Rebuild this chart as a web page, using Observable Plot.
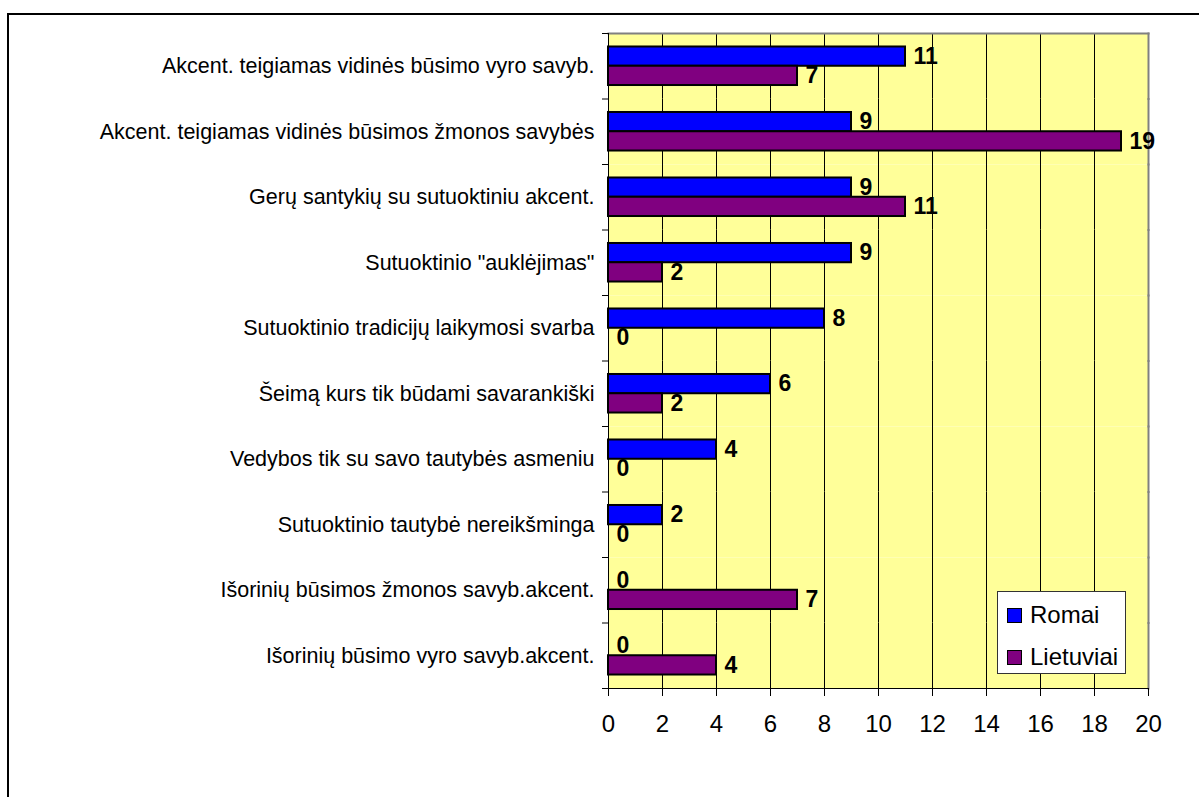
<!DOCTYPE html>
<html>
<head>
<meta charset="utf-8">
<script src="https://cdn.jsdelivr.net/npm/d3@7"></script>
<script src="https://cdn.jsdelivr.net/npm/@observablehq/plot@0.6"></script>
<style>
  html, body { margin: 0; padding: 0; background: #fff; overflow: hidden; }
  body { width: 1199px; height: 797px; position: relative; font-family: "Liberation Sans", Arial, sans-serif; }
  #border { position: absolute; left: 7px; top: 13px; width: 1300px; height: 900px; border: 2px solid #000; box-sizing: border-box; }
  #chart { position: absolute; left: 0; top: 0; }
  #legend { position: absolute; left: 997px; top: 591px; width: 129px; height: 83px; border: 1px solid #333; background: #fff; box-sizing: border-box; font-size: 24px; color: #000; }
  .item { position: absolute; left: 9px; display: flex; align-items: center; height: 28px; line-height: 28px; }
  .sw { width: 13px; height: 13px; border: 1.5px solid #000; margin-right: 8px; }
</style>
</head>
<body>
<div id="border"></div>
<div id="chart"></div>
<div id="legend"></div>
<script>
const categories = [
  "Akcent. teigiamas vidinės būsimo vyro savyb.",
  "Akcent. teigiamas vidinės būsimos žmonos savybės",
  "Gerų santykių su sutuoktiniu akcent.",
  "Sutuoktinio \"auklėjimas\"",
  "Sutuoktinio tradicijų laikymosi svarba",
  "Šeimą kurs tik būdami savarankiški",
  "Vedybos tik su savo tautybės asmeniu",
  "Sutuoktinio tautybė nereikšminga",
  "Išorinių būsimos žmonos savyb.akcent.",
  "Išorinių būsimo vyro savyb.akcent."
];
const series = ["Romai", "Lietuviai"];
const romai = [11, 9, 9, 9, 8, 6, 4, 2, 0, 0];
const lietuviai = [7, 19, 11, 2, 0, 2, 0, 0, 7, 4];
const xTicks = [0, 2, 4, 6, 8, 10, 12, 14, 16, 18, 20];
const colors = ["#0000ff", "#800080"];

const data = [];
categories.forEach((c, i) => {
  data.push({cat: c, series: "Romai", value: romai[i]});
  data.push({cat: c, series: "Lietuviai", value: lietuviai[i]});
});

const plot = Plot.plot({
  width: 1199,
  height: 797,
  marginLeft: 608,
  marginRight: 51,
  marginTop: 33,
  marginBottom: 109,
  style: {fontFamily: "'Liberation Sans', Arial, sans-serif", background: "transparent"},
  x: {domain: [0, 20], ticks: xTicks},
  y: {domain: series, paddingInner: 0, paddingOuter: 0.7, round: false, axis: null},
  fy: {domain: categories, padding: 0, round: false},
  color: {domain: series, range: colors},
  marks: [
    Plot.frame({fill: "#ffff99", stroke: "none"}),
    Plot.ruleX(xTicks.slice(1, -1), {stroke: "#000", strokeWidth: 1}),
    Plot.frame({anchor: "right", stroke: "#808080", strokeWidth: 2}),
    Plot.frame({anchor: "top", stroke: "#808080", strokeWidth: 2, fy: categories[0]}),
    Plot.frame({anchor: "left", stroke: "#000", strokeWidth: 1}),
    Plot.frame({anchor: "bottom", stroke: "#000", strokeWidth: 1, fy: categories[categories.length - 1]}),
    Plot.frame({anchor: "top", stroke: "#000", strokeWidth: 1, insetLeft: -6, insetRight: 540}),
    Plot.frame({anchor: "bottom", stroke: "#000", strokeWidth: 1, insetLeft: -6, insetRight: 540, fy: categories[categories.length - 1]}),
    Plot.barX(data, {fy: "cat", y: "series", x: "value", fill: "series", stroke: "#000", strokeWidth: 2}),
    Plot.text(data, {fy: "cat", y: "series", x: "value", text: d => String(d.value), dx: 8, textAnchor: "start", fontWeight: "bold", fontSize: 23, fill: "#000"}),
    Plot.axisX({ticks: xTicks, tickSize: 8, tickPadding: 18, fontSize: 24, stroke: "#000", color: "#000", label: null}),
    Plot.axisFy({anchor: "left", tickSize: 0, tickPadding: 14, fontSize: 21.5, label: null, color: "#000"})
  ]
});
document.getElementById("chart").appendChild(plot);

const legend = document.getElementById("legend");
const tops = [9, 51];
series.forEach((s, i) => {
  const it = document.createElement("div");
  it.className = "item";
  it.style.top = tops[i] + "px";
  const sw = document.createElement("div");
  sw.className = "sw";
  sw.style.background = colors[i];
  const t = document.createElement("span");
  t.textContent = s;
  it.appendChild(sw);
  it.appendChild(t);
  legend.appendChild(it);
});
</script>
</body>
</html>
